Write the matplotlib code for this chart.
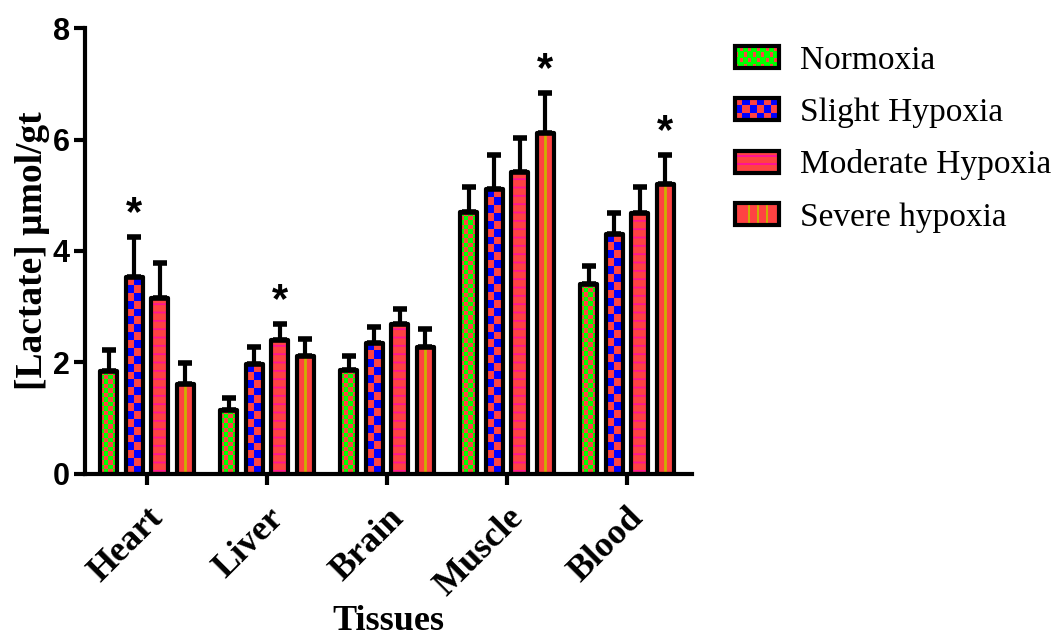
import numpy as np
import matplotlib
matplotlib.use('Agg')
import matplotlib.pyplot as plt
from matplotlib.patches import Rectangle, Patch
from matplotlib.colors import ListedColormap
from matplotlib.legend_handler import HandlerBase

tissues = ['Heart', 'Liver', 'Brain', 'Muscle', 'Blood']
groups = ['Normoxia', 'Slight Hypoxia', 'Moderate Hypoxia', 'Severe hypoxia']

normoxia = [1.85, 1.15, 1.87, 4.70, 3.41]
slight = [3.53, 1.97, 2.35, 5.11, 4.30]
moderate = [3.16, 2.40, 2.69, 5.42, 4.68]
severe = [1.61, 2.12, 2.28, 6.12, 5.20]

normoxia_err = [0.37, 0.21, 0.25, 0.45, 0.32]
slight_err = [0.72, 0.31, 0.29, 0.61, 0.38]
moderate_err = [0.62, 0.29, 0.27, 0.61, 0.47]
severe_err = [0.38, 0.30, 0.32, 0.71, 0.52]

# (series, tissue) pairs marked as significant
significant = [(1, 0), (2, 1), (3, 3), (3, 4)]

RED = '#ff4242'
GREEN = '#00ff00'
BLUE = '#0000ff'
PINK = '#ff1493'
OLIVE = '#ccb000'

values = [normoxia, slight, moderate, severe]
errors = [normoxia_err, slight_err, moderate_err, severe_err]

plt.rcParams['hatch.linewidth'] = 1.3

fig = plt.figure(figsize=(10.61, 6.44), dpi=100)
ax = fig.add_axes([0.0801, 0.264, 0.572, 0.6925])

x = np.arange(len(tissues))
step = 0.2125
width = 0.14
px_y = 55.75  # pixels per data unit on y, used for checker cell size


def checker(nrows, ncols):
    r, c = np.indices((nrows, ncols))
    return ((r + c) % 2).astype(float)


for i, (vals, errs) in enumerate(zip(values, errors)):
    xs = x + (i - 1.5) * step
    for xc, h, e in zip(xs, vals, errs):
        base = GREEN if i == 0 else (BLUE if i == 1 else RED)
        bar = Rectangle((xc - width / 2, 0), width, h, facecolor=base,
                        edgecolor='none', zorder=1)
        ax.add_patch(bar)
        if i in (0, 1):
            cell = 4.5 if i == 0 else 8.0
            ncols = 4 if i == 0 else 2
            nrows = max(1, int(round(h * px_y / cell)))
            cmap = ListedColormap([RED, base])
            im = ax.imshow(checker(nrows, ncols), cmap=cmap, vmin=0, vmax=1,
                           extent=(xc - width / 2, xc + width / 2, 0, h),
                           aspect='auto', interpolation='nearest',
                           origin='lower', zorder=1.5)
            im.set_clip_path(bar)
        elif i == 2:
            stripes = Rectangle((xc - width / 2, 0), width, h, facecolor='none',
                                edgecolor=PINK, hatch='--', linewidth=0,
                                zorder=1.5)
            ax.add_patch(stripes)
        else:
            ax.vlines(xc, 0, h, color=OLIVE, linewidth=2, zorder=1.5)
        ax.add_patch(Rectangle((xc - width / 2, 0), width, h, facecolor='none',
                               edgecolor='black', linewidth=3, zorder=3,
                               joinstyle='round'))
    ax.errorbar(xs, vals, yerr=[np.zeros(len(vals)), errs], fmt='none',
                ecolor='black', elinewidth=3, capsize=5, capthick=4, zorder=2)

for i, t in significant:
    xc = x[t] + (i - 1.5) * step
    top = values[i][t] + errors[i][t]
    ax.text(xc, top + 0.42, '*', ha='center', va='center', fontsize=30,
            family='Liberation Sans', fontweight='bold')

ax.set_xlim(-0.517, 4.54)
ax.set_ylim(0, 8)
ax.set_yticks([0, 2, 4, 6, 8])
ax.set_xticks(x)
ax.set_xticklabels(tissues, rotation=45, ha='right', rotation_mode='anchor',
                   family='Liberation Serif', fontweight='bold', fontsize=26)
for lab in ax.get_yticklabels():
    lab.set_family('Liberation Sans')
    lab.set_fontweight('bold')
    lab.set_fontsize(22)
ax.tick_params(axis='both', direction='out', length=8, width=3)
ax.tick_params(axis='x', pad=12)
ax.tick_params(axis='y', pad=3)
for s in ['top', 'right']:
    ax.spines[s].set_visible(False)
for s in ['left', 'bottom']:
    ax.spines[s].set_linewidth(3)

ax.set_ylabel('[Lactate] µmol/gt', family='Liberation Serif', fontweight='bold',
              fontsize=27, labelpad=2)
ax.set_xlabel('Tissues', family='Liberation Serif', fontweight='bold',
              fontsize=26, labelpad=1)


class HandlerPattern(HandlerBase):
    def __init__(self, kind):
        super().__init__()
        self.kind = kind

    def create_artists(self, legend, orig_handle, xdescent, ydescent,
                       width, height, fontsize, trans):
        x0, y0 = -xdescent, -ydescent
        arts = []
        if self.kind == 'checker_small':
            arts.append(Rectangle((x0, y0), width, height, facecolor=GREEN,
                                  edgecolor='none', transform=trans))
            nr, nc = 4, 10
            for r in range(nr):
                for c in range(nc):
                    if (r + c) % 2 == 0:
                        arts.append(Rectangle((x0 + c * width / nc, y0 + r * height / nr),
                                              width / nc * 0.7, height / nr * 0.8,
                                              facecolor=RED, edgecolor='none',
                                              transform=trans))
        elif self.kind == 'checker_big':
            arts.append(Rectangle((x0, y0), width, height, facecolor=BLUE,
                                  edgecolor='none', transform=trans))
            nr, nc = 3, 6
            for r in range(nr):
                for c in range(nc):
                    if (r + c) % 2 == 0:
                        arts.append(Rectangle((x0 + c * width / nc, y0 + r * height / nr),
                                              width / nc, height / nr,
                                              facecolor=RED, edgecolor='none',
                                              transform=trans))
        elif self.kind == 'hstripe':
            arts.append(Rectangle((x0, y0), width, height, facecolor=RED,
                                  edgecolor='none', transform=trans))
            for f in (0.35, 0.7):
                arts.append(Rectangle((x0, y0 + f * height), width, height * 0.08,
                                      facecolor=PINK, edgecolor='none',
                                      transform=trans))
        else:
            arts.append(Rectangle((x0, y0), width, height, facecolor=RED,
                                  edgecolor='none', transform=trans))
            for f in (0.3, 0.5, 0.7):
                arts.append(Rectangle((x0 + f * width, y0), width * 0.05, height,
                                      facecolor=OLIVE, edgecolor='none',
                                      transform=trans))
        arts.append(Rectangle((x0, y0), width, height, facecolor='none',
                              edgecolor='black', linewidth=3, transform=trans))
        return arts


handles = [Patch(label=g) for g in groups]
kinds = ['checker_small', 'checker_big', 'hstripe', 'vstripe']
fig.legend(handles, groups, loc='upper left', bbox_to_anchor=(0.693, 0.93),
           frameon=False, prop={'family': 'Liberation Serif', 'size': 24},
           handlelength=1.3, handleheight=0.65, handletextpad=0.65,
           labelspacing=0.65, borderpad=0, borderaxespad=0,
           handler_map={h: HandlerPattern(k) for h, k in zip(handles, kinds)})

fig.savefig('out.png', dpi=100)
